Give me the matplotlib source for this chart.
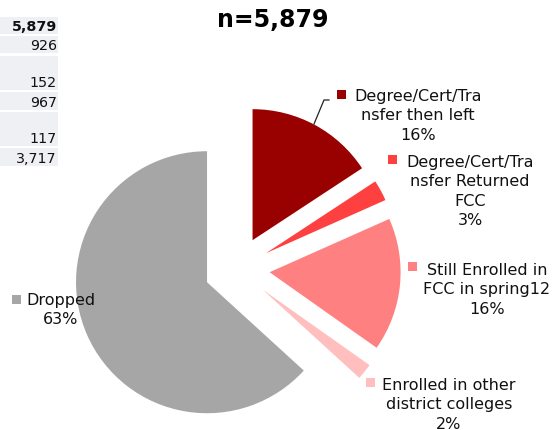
import matplotlib
matplotlib.use("Agg")
import matplotlib.pyplot as plt
from matplotlib.patches import Rectangle

# ---- data ----
categories = ["Degree/Cert/Tra\nnsfer then left", "Degree/Cert/Tra\nnsfer Returned\nFCC",
              "Still Enrolled in\nFCC in spring12", "Enrolled in other\ndistrict colleges", "Dropped"]
values = [926, 152, 967, 117, 3717]
total = 5879
table_values = ["5,879", "926", "152", "967", "117", "3,717"]
title = "n=5,879"

colors = ["#990000", "#ff4040", "#ff8080", "#ffbfbf", "#a6a6a6"]

W, H = 554, 431
fig = plt.figure(figsize=(W / 100, H / 100), dpi=100)
ax = fig.add_axes([0, 0, 1, 1])
cx, cy, R = 237, 270, 131  # pixel centre and radius


def P(x, y):
    return (x - cx) / R, (cy - y) / R


ax.pie(values, colors=colors, startangle=90, counterclock=False,
       explode=[0.25] * len(values), radius=1.0,
       wedgeprops=dict(linewidth=0))
ax.set_xlim(-cx / R, (W - cx) / R)
ax.set_ylim(-(H - cy) / R, cy / R)
ax.set_aspect("equal")
ax.axis("off")

# ---- left table ----
rows = [(18, 35), (37, 54), (57, 91), (93, 111), (113, 147), (149, 167)]
for (t, b), v, i in zip(rows, table_values, range(len(rows))):
    x0, y0 = P(0, b)
    x1, y1 = P(58, t)
    ax.add_patch(Rectangle((x0, y0), x1 - x0, y1 - y0, facecolor="#eff0f3",
                           edgecolor="none", zorder=0))
    tx, ty = P(57, b - 8)
    ax.text(tx, ty, v, ha="right", va="center", fontsize=10.3,
            fontweight="bold" if i == 0 else "normal", color="#111111")

# ---- title ----
tx, ty = P(273, 20)
ax.text(tx, ty, title, ha="center", va="center", fontsize=17, fontweight="bold")

# ---- labels ----
pcts = [f"{round(v / total * 100)}%" for v in values]
label_pos = [(418, 97), (470, 163), (487, 271), (449, 386), (61, 301)]
square_pos = [(337, 91), (388, 156), (408, 263), (366, 379), (12, 296)]
for cat, pct, (lx, ly), (sx, sy), col in zip(categories, pcts, label_pos, square_pos, colors):
    txt = cat + "\n" + pct
    x, y = P(lx, ly)
    ax.text(x, y + 8 / R, txt, ha="center", va="top", fontsize=11.5,
            linespacing=1.37, color="#111111")
    x0, y0 = P(sx, sy + 9)
    ax.add_patch(Rectangle((x0, y0), 9 / R, 9 / R, facecolor=col, edgecolor="none"))

# leader line for first slice
lx = [P(329, 101)[0], P(324, 101)[0], P(314, 125)[0]]
ly = [P(329, 101)[1], P(324, 101)[1], P(314, 125)[1]]
ax.plot(lx, ly, color="#222222", linewidth=0.9)

fig.savefig("out.png", dpi=100)
